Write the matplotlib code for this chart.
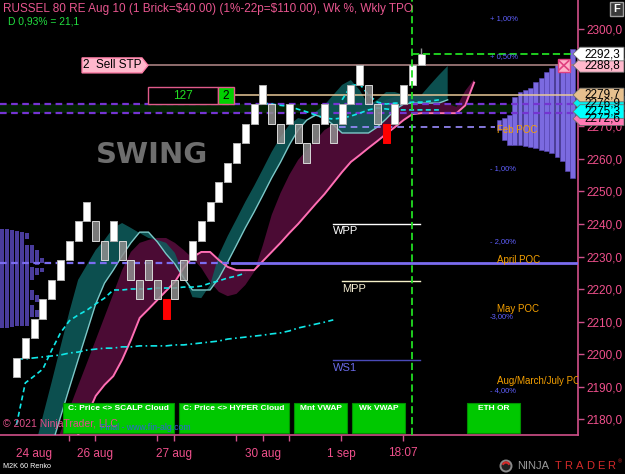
import matplotlib
matplotlib.use("Agg")
import matplotlib.pyplot as plt
import matplotlib.transforms as mtransforms
from matplotlib.patches import Polygon, Rectangle, Circle, Arc
import numpy as np

plt.rcParams["font.family"] = ["Liberation Sans", "DejaVu Sans"]

# ---- renko bricks (price), kind: W = up, G = grey, R = signal ----
brick_open = [2192.8, 2198.8, 2204.8, 2210.8, 2216.8, 2222.8, 2228.8, 2234.8, 2240.8,
              2240.8, 2234.8, 2234.8, 2234.8, 2228.8, 2222.8, 2222.8, 2222.8, 2216.8, 2216.8, 2222.8,
              2228.8, 2234.8, 2240.8, 2246.8, 2252.8, 2258.8, 2264.8, 2270.8, 2276.8,
              2276.8, 2270.8, 2270.8, 2270.8, 2264.8, 2264.8, 2270.8, 2270.8, 2270.8, 2276.8, 2282.8,
              2282.8, 2276.8, 2270.8, 2270.8, 2276.8, 2282.8, 2288.8]
brick_close = [2198.8, 2204.8, 2210.8, 2216.8, 2222.8, 2228.8, 2234.8, 2240.8, 2246.8,
               2234.8, 2228.8, 2240.8, 2228.8, 2222.8, 2216.8, 2228.8, 2216.8, 2210.8, 2222.8, 2228.8,
               2234.8, 2240.8, 2246.8, 2252.8, 2258.8, 2264.8, 2270.8, 2276.8, 2282.8,
               2270.8, 2264.8, 2276.8, 2264.8, 2258.8, 2270.8, 2276.8, 2264.8, 2276.8, 2282.8, 2288.8,
               2276.8, 2270.8, 2264.8, 2276.8, 2282.8, 2288.8, 2292.3]
brick_kind = "WWWWWWWWW" "GGWGGGGG" "R" "GG" "WWWWWWWWW" "GGWGGGW" "GWWW" "GGR" "WWWW"
last_high = 2294.1

# ---- clouds / lines per brick index ----
teal_a = [2136.6, 2145.5, 2154.2, 2163.1, 2171.7, 2180.6, 2189.5, 2198.2, 2206.8, 2215.4,
          2221.8, 2225.8, 2230.2, 2234.2, 2237.5, 2237.5, 2234.5, 2230.8, 2227.7, 2223.4,
          2219.7, 2219.7, 2219.7, 2223.4, 2228.3, 2233.5, 2238.8, 2243.7, 2248.9, 2254.2,
          2259.0, 2264.3, 2268.9, 2272.0, 2273.5, 2272.6, 2270.5, 2268.0, 2268.0, 2268.0,
          2268.0, 2269.8, 2272.3, 2275.1, 2276.9, 2277.2, 2277.2, 2277.2, 2277.2, 2278.2]
teal_b = [2148.9, 2159.7, 2170.2, 2180.9, 2191.4, 2202.2, 2212.9, 2222.8, 2227.4, 2232.0,
          2235.1, 2238.8, 2240.3, 2238.8, 2237.2, 2235.7, 2235.1, 2234.2, 2231.1, 2224.3,
          2217.5, 2217.2, 2221.2, 2230.5, 2236.3, 2241.5, 2246.8, 2251.7, 2256.9, 2262.2,
          2266.8, 2270.5, 2272.6, 2272.0, 2274.5, 2276.6, 2279.7, 2282.8, 2284.3, 2281.2,
          2276.6, 2278.2, 2280.6, 2280.6, 2279.7, 2279.7, 2279.7, 2282.8, 2285.8, 2288.6]
pink_line = [2131.4, 2137.5, 2143.7, 2149.8, 2156.3, 2162.5, 2168.9, 2175.1, 2180.9, 2187.1,
             2190.5, 2193.2, 2198.2, 2204.3, 2211.1, 2213.8, 2216.6, 2219.4, 2222.2, 2226.5,
             2229.8, 2231.4, 2231.4, 2228.9, 2226.8, 2225.8, 2225.8, 2225.8, 2228.6, 2231.4,
             2234.2, 2237.2, 2240.0, 2243.1, 2246.2, 2249.2, 2252.6, 2256.0, 2259.1, 2261.2,
             2263.4, 2265.5, 2267.7, 2269.8, 2272.0, 2273.8, 2274.1, 2274.1, 2274.1, 2274.1,
             2274.1, 2276.5, 2283.5]
maroon_b = [2140.0, 2146.0, 2153.0, 2161.0, 2168.9, 2176.0, 2183.1, 2190.2, 2197.2, 2204.3,
            2211.4, 2218.5, 2225.8, 2231.4, 2234.2, 2235.1, 2235.7, 2235.7, 2234.2, 2232.0,
            2229.5, 2226.5, 2222.2, 2219.1, 2217.8, 2218.5, 2221.2, 2225.2, 2233.5, 2242.8,
            2249.5, 2255.1, 2259.7, 2262.8, 2265.8, 2268.9, 2270.5, 2272.0, 2273.5, 2275.1,
            2275.7, 2276.6, 2278.2, 2279.1, 2279.4, 2279.7, 2279.7, 2279.7, 2278.2, 2277.0,
            2276.0, 2281.0, 2284.5]
wk_vwap_a = [2178.2, 2191.1, 2193.2, 2195.4, 2201.2, 2206.5, 2210.2, 2212.0, 2213.5, 2215.4,
             2217.2, 2219.7, 2219.7, 2220.0, 2220.0, 2220.0, 2220.3, 2220.3, 2220.3, 2220.6,
             2220.6, 2220.9, 2221.8, 2222.5, 2223.4, 2224.0, 2224.9]
wk_vwap_b = [2277.2, 2276.9, 2276.5, 2276.2, 2275.3, 2274.5, 2273.5, 2272.6, 2272.3, 2272.6,
             2273.2, 2274.1, 2275.1, 2275.7, 2275.4, 2275.1, 2275.1, 2275.1, 2275.1, 2275.1, 2275.1]
mnt_vwap_a = [2198.5, 2198.5, 2198.8, 2199.1, 2199.4, 2199.7, 2200.3, 2200.6, 2201.2, 2201.5,
              2201.8, 2201.8, 2202.2, 2202.2, 2202.5, 2202.5, 2202.5, 2202.5, 2202.8, 2202.8,
              2203.1, 2203.4, 2203.7, 2204.0, 2204.6, 2204.9, 2205.2, 2205.5, 2205.8, 2206.2,
              2206.5, 2207.1, 2208.0, 2208.6, 2209.2, 2209.8, 2210.5]
mnt_vwap_b = [2278.2, 2282.5, 2283.1, 2279.7, 2277.5, 2276.9, 2277.2, 2277.2, 2277.5, 2277.5,
              2277.8, 2278.2]

# ---- TPO profiles (price ranges per column) ----
tpo_r_hi = [2293.8, 2289.8, 2289.5, 2289.2, 2288.0, 2286.8, 2284.9, 2283.7, 2281.8, 2281.2,
            2280.6, 2279.1, 2273.5, 2272.6, 2272.0]
tpo_r_lo = [2254.2, 2256.3, 2259.4, 2260.6, 2261.8, 2262.5, 2262.8, 2263.4, 2263.7, 2264.0,
            2264.3, 2264.3, 2264.3, 2265.8, 2268.9]
tpo_l_col = [0, 1, 2, 3, 4, 5, 5, 6, 6, 6, 6, 7, 7, 7, 7, 8, 8]
tpo_l_hi = [2238.5, 2238.5, 2238.2, 2237.8, 2237.5, 2237.2, 2233.5, 2233.5, 2226.8, 2219.7,
            2215.1, 2232.0, 2226.5, 2218.2, 2213.5, 2229.5, 2226.5]
tpo_l_lo = [2208.0, 2208.0, 2208.3, 2208.6, 2208.6, 2235.4, 2208.6, 2228.0, 2222.8, 2216.6,
            2211.4, 2227.4, 2224.3, 2216.0, 2211.4, 2228.0, 2225.2]

# ---- levels ----
sell_stp = 2288.8
last_price = 2292.3
wk_open = 2279.7
band_hi, band_lo = 2277.0, 2274.1
feb_poc, april_poc = 2269.8, 2228.1
wpp, mpp, ws1 = 2240.0, 2222.5, 2198.2
pct_labels = ["+ 1,00%", "+ 0,50%", "- 1,00%", "- 2,00%", "-3,00%", "- 4,00%"]
pct_prices = [2303.1, 2291.4, 2257.2, 2234.5, 2211.4, 2188.9]
poc_labels = ["June POC", "Feb POC", "April POC", "May POC", "Aug/March/July POC"]
poc_prices = [2310.0, 2268.9, 2228.9, 2213.8, 2191.7]
xtick_pos = [2.0, 8.9, 17.9, 28.0, 36.9, 43.9]
xtick_lab = ["24 aug", "26 aug", "27 aug", "30 aug", "1 sep", "18:07"]
xtick_minor = [6.0, 16.0, 24.9, 31.0]
flags = [("2276,9", 2277.2, "#00f2f2"), ("2272,6", 2272.4, "#ff7ab4"), ("2275,3", 2274.6, "#00ffff"),
         ("2279,7", 2279.7, "#e6c08e"), ("2288,8", 2288.8, "#ffb8cc"), ("2292,3", 2292.3, "#ffffff")]
buttons = ["C: Price <> SCALP Cloud", "C: Price <> HYPER Cloud", "Mnt VWAP", "Wk VWAP", "ETH OR"]

PINK = "#f0508c"
SPINE = "#d0508a"

fig = plt.figure(figsize=(6.25, 4.74), dpi=100, facecolor="black")
ax = fig.add_axes([0, 39 / 474, 578 / 625, 435 / 474])
ax.set_facecolor("black")
XL, XR = -1.875, 63.81
ax.set_xlim(XL, XR)
ax.set_ylim(2175.08, 2308.92)

# background band + horizontal levels
ax.axhspan(band_lo, band_hi, color="#032003", lw=0, zorder=0.5)
for p in (band_hi, band_lo):
    ax.axhline(p, color="#7534d2", ls=(0, (3, 2)), lw=1.6, zorder=4)
ax.plot([XL, 24.5], [april_poc] * 2, color="#7b6cf0", ls=(0, (3, 2)), lw=1.6, zorder=4)
ax.plot([24.5, XR], [april_poc] * 2, color="#7b6cf0", lw=2, zorder=4)
ax.plot([36.6, 54.4], [feb_poc] * 2, color="#9a8cff", ls=(0, (4, 3)), lw=1.2, zorder=4)

# TPO profiles
ax.bar([XL + 0.568 * c for c in tpo_l_col], np.subtract(tpo_l_hi, tpo_l_lo), bottom=tpo_l_lo,
       width=0.5, align="edge", color="#4a3c9c", lw=0, zorder=1)
nr = len(tpo_r_hi)
ax.bar([63.55 - 0.6 * (k + 1) for k in range(nr)], np.subtract(tpo_r_hi, tpo_r_lo), bottom=tpo_r_lo,
       width=0.55, align="edge", color="#7b6ae0", edgecolor="#5a48b8", lw=0.4, zorder=1)

# clouds
xm = np.arange(len(pink_line))
ax.fill_between(xm, pink_line, maroon_b, color="#4b0b34", lw=0, zorder=1.8)
xt = np.arange(len(teal_a))
ax.fill_between(xt, teal_a, teal_b, color="#0f5e5e", alpha=0.85, lw=0, zorder=2)
ax.plot(xt, teal_a, color="#7cc8c8", lw=1, zorder=3)
ax.plot(xm, pink_line, color="#ff6eb4", lw=1.4, zorder=3.2)

# vwaps
ax.plot(np.arange(len(wk_vwap_a)), wk_vwap_a, color="#10e8e8", ls=(0, (3, 2)), lw=1.2, zorder=5)
ax.plot(np.arange(len(wk_vwap_b)) + 28, wk_vwap_b, color="#10e8e8", ls=(0, (3, 2)), lw=1.2, zorder=5)
ax.plot(np.arange(len(mnt_vwap_a)), mnt_vwap_a, color="#10e8e8", ls=(0, (4, 2, 1, 2)), lw=1.2, zorder=5)
ax.plot(np.arange(len(mnt_vwap_b)) + 37, mnt_vwap_b, color="#10e8e8", ls=(0, (3, 2)), lw=1.2, zorder=5)

# bricks
idx = np.arange(len(brick_open))
lo = np.minimum(brick_open, brick_close)
hi = np.maximum(brick_open, brick_close)
fc = {"W": "#ffffff", "G": (0.56, 0.56, 0.56, 0.85), "R": "#ff0000"}
ec = {"W": "#b0b0b0", "G": "#d8d8d8", "R": "#ff0000"}
ax.bar(idx, hi - lo, bottom=lo, width=0.78, color=[fc[k] for k in brick_kind],
       edgecolor=[ec[k] for k in brick_kind], lw=0.7, zorder=6)
ax.vlines(idx[-1], hi[-1], last_high, color="#909090", lw=1, zorder=5.5)

# order / level lines
ax.plot([14.94, XR], [sell_stp] * 2, color="#a88080", lw=1.2, zorder=4.5)
ax.plot([24.7, XR], [wk_open] * 2, color="#e8c898", lw=1.1, zorder=4.5)
ax.plot([45.0, XR], [last_price] * 2, color="#22dd22", ls=(0, (4, 2)), lw=1.3, zorder=7)
ax.axvline(45.0, color="#22dd22", ls=(0, (4, 2)), lw=1.3, zorder=7)
ax.plot([36.0, 45.85], [wpp] * 2, color="#ffffff", lw=1, zorder=5)
ax.plot([37.0, 45.85], [mpp] * 2, color="#f5f0c8", lw=1, zorder=5)
ax.plot([36.0, 45.85], [ws1] * 2, color="#4a4ab8", lw=1, zorder=5)
ax.text(36.0, wpp - 2.3, "WPP", color="white", fontsize=8, va="center", ha="left", zorder=8)
ax.text(37.0, mpp - 2.5, "MPP", color="#f4ecd0", fontsize=8, va="center", ha="left", zorder=8)
ax.text(36.0, ws1 - 2.5, "WS1", color="#6a6ae8", fontsize=8, va="center", ha="left", zorder=8)

for t, p in zip(pct_labels, pct_prices):
    ax.text(53.8, p, t, color="#6060ff", fontsize=5.5, va="center", ha="left", zorder=8)
for t, p in zip(poc_labels, poc_prices):
    ax.text(54.6, p, t, color="#f5a000", fontsize=7, va="center", ha="left", zorder=8, clip_on=True)

ax.text(0.263, 0.644, "SWING", transform=ax.transAxes, fontsize=21, fontweight="bold",
        color="#6e6e6e", family="DejaVu Sans", ha="center", va="center", zorder=8)

# chart-trader tags
ax.add_patch(Polygon([(7.45, sell_stp + 2.3), (14.26, sell_stp + 2.3), (14.94, sell_stp),
                      (14.26, sell_stp - 2.3), (7.45, sell_stp - 2.3)], closed=True,
                     fc="#ffb8cc", ec="#ff7fa8", lw=1, zorder=9))
ax.text(10.9, sell_stp, "2  Sell STP", fontsize=8.5, color="black", ha="center", va="center", zorder=10)
ax.add_patch(Rectangle((14.94, 2276.9), 7.96, 5.25, fc="black", ec="#e05a8a", lw=1, zorder=9))
ax.text(18.9, 2279.5, "127", fontsize=8.5, color="#22dd22", ha="center", va="center", zorder=10)
ax.add_patch(Rectangle((22.9, 2276.9), 1.8, 5.25, fc="#00d000", ec="#e05a8a", lw=1, zorder=9))
ax.text(23.8, 2279.5, "2", fontsize=8.5, color="black", ha="center", va="center", zorder=10)
ax.add_patch(Rectangle((61.5, sell_stp - 1.9), 1.4, 3.8, fc="#ffb0c8", ec="#e04080", lw=1, zorder=9))
ax.plot([61.65, 62.75], [sell_stp - 1.4, sell_stp + 1.4], color="#e04080", lw=1.2, zorder=10)
ax.plot([61.65, 62.75], [sell_stp + 1.4, sell_stp - 1.4], color="#e04080", lw=1.2, zorder=10)

# axes styling
for s in ("top", "left"):
    ax.spines[s].set_visible(False)
for s in ("right", "bottom"):
    ax.spines[s].set_color(SPINE)
    ax.spines[s].set_linewidth(1.2)
ax.yaxis.tick_right()
yt = np.arange(2180, 2301, 10)
ax.set_yticks(yt)
ax.set_yticklabels([f"{v:.1f}".replace(".", ",") for v in yt])
ax.tick_params(axis="y", right=True, left=False, color=SPINE, labelcolor=PINK, length=4,
               width=1, pad=2, labelsize=8.5)
ax.set_xticks(xtick_pos)
ax.set_xticklabels(xtick_lab)
ax.set_xticks(xtick_minor, minor=True)
ax.tick_params(axis="x", which="both", color=SPINE, labelcolor=PINK, length=4, width=1,
               pad=5, labelsize=8.5)
ax.xaxis.get_major_ticks()[0].tick1line.set_visible(False)

# price flags on the right axis
tr = mtransforms.blended_transform_factory(ax.transAxes, ax.transData)
for t, p, c in flags:
    h = 2.1
    pts = [(0.9913, p), (1.0035, p + h), (1.0796, p + h), (1.0796, p - h), (1.0035, p - h)]
    ax.add_patch(Polygon(pts, closed=True, transform=tr, fc=c, ec="#707070", lw=0.6,
                         clip_on=False, zorder=20))
    ax.text(1.0415, p, t, transform=tr, ha="center", va="center", fontsize=8.5,
            color="black", clip_on=False, zorder=21)

# overlay in pixel space: title, buttons, logo
ov = fig.add_axes([0, 0, 1, 1], zorder=5)
ov.set_xlim(0, 625)
ov.set_ylim(474, 0)
ov.axis("off")

ov.text(3, 9, r"RUSSEL 80 RE Aug 10 (1 Brick=\$40.00) (1%-22p=\$110.00), Wk %, Wkly TPO",
        color="#e8568f", fontsize=8.5, va="center", ha="left")
ov.text(8, 21, "D 0,93% = 21,1", color="#22e040", fontsize=7.4, va="center", ha="left")

bx = [(63, 174), (179, 289), (294, 347), (352, 405), (467, 520)]
for lab, (x0, x1) in zip(buttons, bx):
    ov.add_patch(Rectangle((x0, 403), x1 - x0, 30, fc="#00c800", ec="#009000", lw=0.8, zorder=1))
    ov.text((x0 + x1) / 2, 409, lab, color="white", fontsize=6, fontweight="bold",
            ha="center", va="center", zorder=2)
ov.text(3, 424, "\u00a9 2021 NinjaTrader, LLC", color="#e0508a", fontsize=7.5, va="center",
        ha="left", zorder=3)
ov.text(100, 428, "Final - www.fin-alg.com", color="#3060d8", fontsize=6.3, va="center",
        ha="left", zorder=3)
ov.text(3, 466, "M2K 60 Renko", color="white", fontsize=5.2, va="center", ha="left")

ov.add_patch(Rectangle((610, 2), 13, 14, fc="#3a3a3a", ec="#a0a0a0", lw=1))
ov.text(616.5, 9, "F", color="white", fontsize=8, fontweight="bold", ha="center", va="center")

# NinjaTrader logo
ov.add_patch(Circle((506, 466), 5.5, fc="#202020", ec="#8a8a8a", lw=1.4))
ov.add_patch(Arc((506, 466), 7, 7, theta1=200, theta2=340, color="#d42a2a", lw=1.6))
ov.text(517, 466, "NINJA", color="#9a9a9a", fontsize=8, ha="left", va="center")
for k, ch in enumerate("TRADER"):
    ov.text(558 + 10.6 * k, 466, ch, color="#d42a2a", fontsize=8, ha="center", va="center")
ov.text(618, 462, "\u00ae", color="#d42a2a", fontsize=4, ha="left", va="center")

fig.savefig("out.png", dpi=100, facecolor="black")
